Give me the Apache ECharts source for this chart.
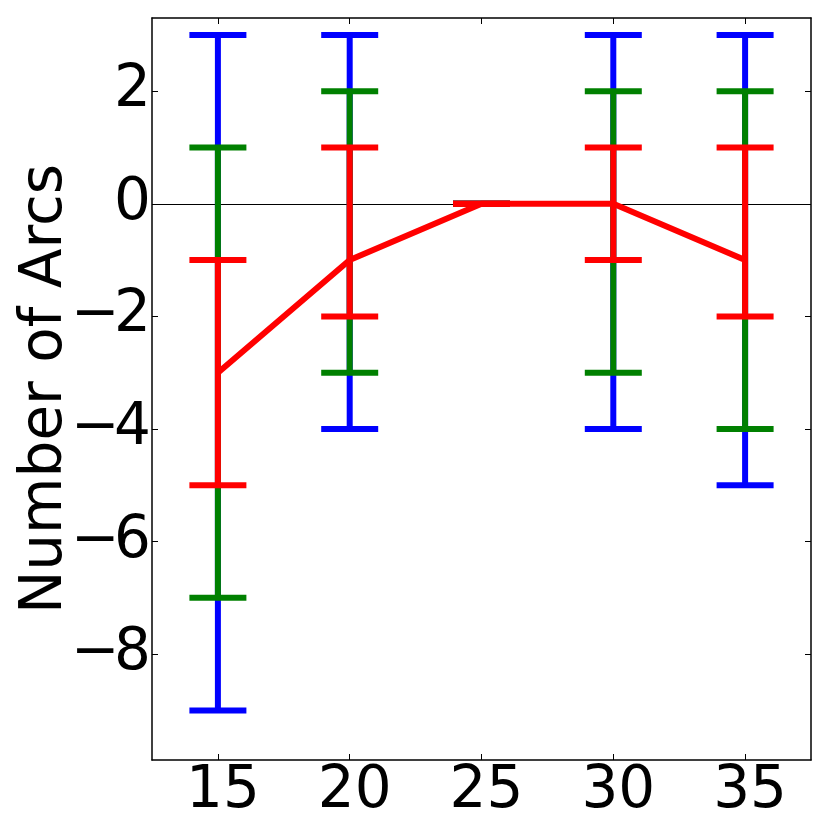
<!DOCTYPE html>
<html>
<head>
<meta charset="utf-8">
<script src="https://cdn.jsdelivr.net/npm/echarts@6/dist/echarts.min.js"></script>
<style>html,body{margin:0;padding:0;background:#fff}#c{width:830px;height:830px}</style>
</head>
<body>
<div id="c"></div>
<script>
var xValues = [15, 20, 25, 30, 35];
var meanValues = [-3, -1, 0, 0, -1];
var blueLow = [-9, -4, 0, -4, -5];
var blueHigh = [3, 3, 0, 3, 3];
var greenLow = [-7, -3, 0, -3, -4];
var greenHigh = [1, 2, 0, 2, 2];
var redLow = [-5, -2, 0, -1, -2];
var redHigh = [-1, 1, 0, 1, 1];
var xTicks = [15, 20, 25, 30, 35];
var yTicks = [-8, -6, -4, -2, 0, 2];

var FONT = 'DejaVu Sans';
var FS = 58;

function fmt(v) { return v < 0 ? '\u2212' + Math.abs(v) : String(v); }
function fmtRich(v) { return v < 0 ? '{m|\u2212}{d|' + Math.abs(v) + '}' : '{d|' + v + '}'; }

function errSeries(name, color, low, high, z) {
  var data = xValues.map(function (x, i) { return [x, low[i], high[i]]; });
  return {
    name: name, type: 'custom', z: z, silent: true,
    data: data,
    encode: { x: 0, y: [1, 2] },
    renderItem: function (params, api) {
      var x = api.value(0);
      var p1 = api.coord([x, api.value(1)]);
      var p2 = api.coord([x, api.value(2)]);
      var hw = 28.5;
      var st = { stroke: color, lineWidth: 6 };
      return {
        type: 'group',
        children: [
          { type: 'line', shape: { x1: p1[0], y1: p1[1], x2: p2[0], y2: p2[1] }, style: st },
          { type: 'line', shape: { x1: p1[0] - hw, y1: p1[1], x2: p1[0] + hw, y2: p1[1] }, style: st },
          { type: 'line', shape: { x1: p2[0] - hw, y1: p2[1], x2: p2[0] + hw, y2: p2[1] }, style: st }
        ]
      };
    }
  };
}

var chart = echarts.init(document.getElementById('c'), null, { renderer: 'canvas' });
var axisLineStyle = { show: true, onZero: false, lineStyle: { color: '#000', width: 1.5 } };
var tickStyle = { inside: true, length: 6, lineStyle: { color: '#000', width: 1 } };
chart.setOption({
  animation: false,
  backgroundColor: '#fff',
  grid: { left: 152, right: 19, top: 18, bottom: 70, show: false, containLabel: false, outerBoundsMode: 'none' },
  xAxis: [
    { type: 'value', min: 12.5, max: 37.5, position: 'bottom',
      axisLine: axisLineStyle,
      axisTick: Object.assign({ customValues: xTicks }, tickStyle),
      axisLabel: { customValues: xTicks, formatter: fmt, fontFamily: FONT, fontSize: FS, color: '#000', margin: 3,
        padding: [0, 0, 0, 10] },
      splitLine: { show: false } },
    { type: 'value', min: 12.5, max: 37.5, position: 'top',
      axisLine: axisLineStyle,
      axisTick: Object.assign({ customValues: xTicks }, tickStyle),
      axisLabel: { show: false }, splitLine: { show: false } }
  ],
  yAxis: [
    { type: 'value', min: -9.88, max: 3.3, position: 'left',
      name: 'Number of Arcs', nameLocation: 'middle', nameRotate: 90, nameGap: 77,
      nameMoveOverlap: false,
      nameTextStyle: { fontFamily: FONT, fontSize: FS, color: '#000' },
      axisLine: axisLineStyle,
      axisTick: Object.assign({ customValues: yTicks }, tickStyle),
      axisLabel: { customValues: yTicks, formatter: fmtRich, color: '#000', margin: 1,
        rich: {
          m: { fontFamily: FONT, fontSize: FS, color: '#000', width: 43, align: 'left' },
          d: { fontFamily: FONT, fontSize: FS, color: '#000' }
        } },
      splitLine: { show: false } },
    { type: 'value', min: -9.88, max: 3.3, position: 'right',
      axisLine: axisLineStyle,
      axisTick: Object.assign({ customValues: yTicks }, tickStyle),
      axisLabel: { show: false }, splitLine: { show: false } }
  ],
  series: [
    errSeries('outer', '#0000ff', blueLow, blueHigh, 2),
    errSeries('middle', '#008000', greenLow, greenHigh, 3),
    errSeries('inner', '#ff0000', redLow, redHigh, 4),
    { name: 'mean', type: 'line', z: 5, silent: true, showSymbol: false, symbol: 'none',
      data: xValues.map(function (x, i) { return [x, meanValues[i]]; }),
      lineStyle: { color: '#ff0000', width: 6 },
      markLine: { silent: true, symbol: 'none', label: { show: false }, z: 1,
        lineStyle: { color: '#000', width: 1, type: 'solid' },
        data: [{ yAxis: 0 }] } }
  ]
});
</script>
</body>
</html>
